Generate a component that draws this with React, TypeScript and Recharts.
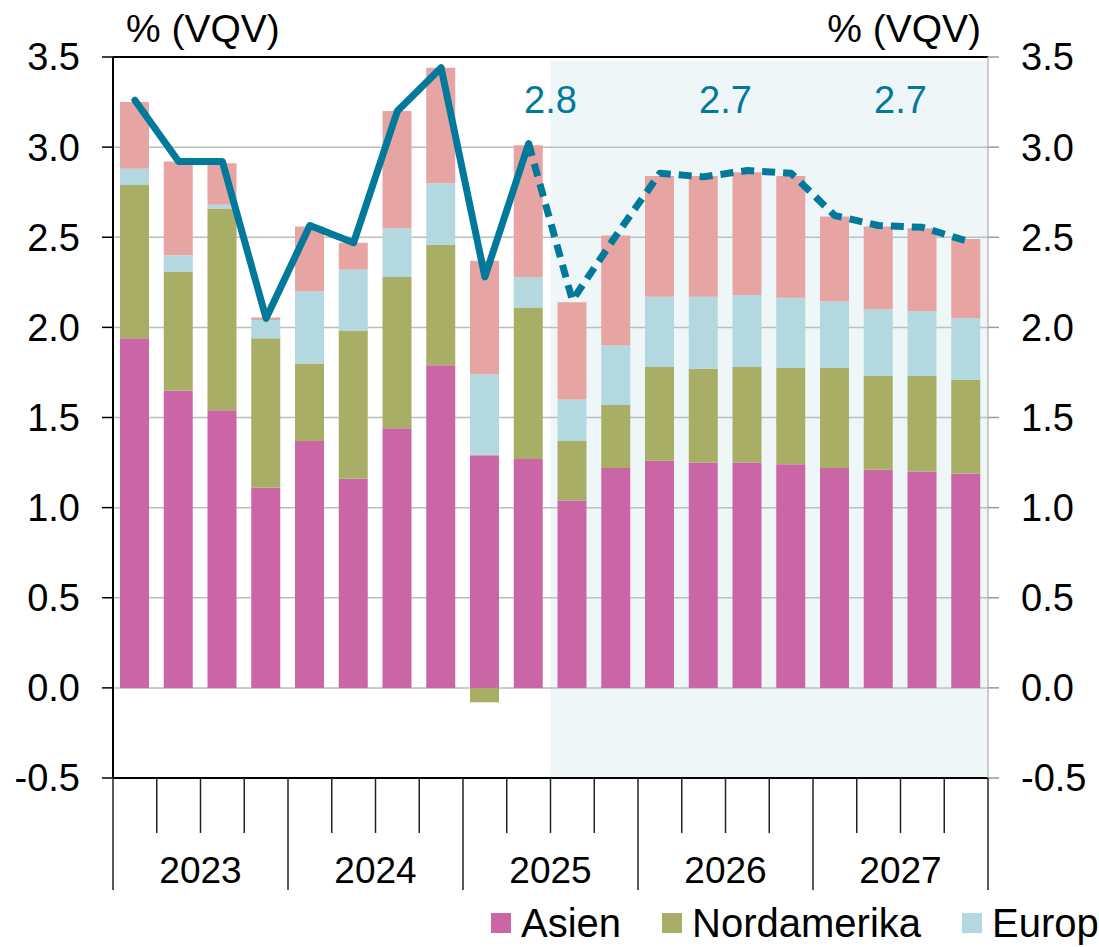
import React from 'react';
import {
  ComposedChart,
  Bar,
  Line,
  XAxis,
  YAxis,
  CartesianGrid,
  ReferenceArea,
  ReferenceLine,
  ReferenceDot,
} from 'recharts';

// Quartale 2023-2027
const quarters = [
  '2023 Q1', '2023 Q2', '2023 Q3', '2023 Q4',
  '2024 Q1', '2024 Q2', '2024 Q3', '2024 Q4',
  '2025 Q1', '2025 Q2', '2025 Q3', '2025 Q4',
  '2026 Q1', '2026 Q2', '2026 Q3', '2026 Q4',
  '2027 Q1', '2027 Q2', '2027 Q3', '2027 Q4',
];
const years = ['2023', '2024', '2025', '2026', '2027'];

// Beiträge in Prozentpunkten
const asien = [1.94, 1.65, 1.54, 1.11, 1.37, 1.16, 1.44, 1.79, 1.29, 1.27, 1.04, 1.22, 1.26, 1.25, 1.25, 1.24, 1.22, 1.21, 1.2, 1.19];
const nordamerika = [0.85, 0.66, 1.12, 0.83, 0.43, 0.82, 0.84, 0.67, -0.08, 0.84, 0.33, 0.35, 0.52, 0.52, 0.53, 0.535, 0.555, 0.52, 0.53, 0.52];
const europa = [0.09, 0.09, 0.02, 0.1, 0.4, 0.34, 0.27, 0.34, 0.45, 0.17, 0.23, 0.33, 0.39, 0.4, 0.4, 0.39, 0.37, 0.37, 0.36, 0.34];
const restDerWelt = [0.37, 0.52, 0.23, 0.015, 0.36, 0.15, 0.65, 0.64, 0.63, 0.73, 0.54, 0.61, 0.67, 0.67, 0.68, 0.675, 0.47, 0.46, 0.46, 0.44];
// Welt gesamt (Linie), ab 2025 Q2 Prognose
const welt = [3.26, 2.92, 2.92, 2.05, 2.565, 2.47, 3.2, 3.44, 2.28, 3.02, 2.15, 2.51, 2.855, 2.835, 2.87, 2.855, 2.62, 2.565, 2.555, 2.48];
const lastActual = 9;

const yTicks = [-0.5, 0, 0.5, 1, 1.5, 2, 2.5, 3, 3.5];
const yearAverages = [
  { year: '2025', label: '2.8' },
  { year: '2026', label: '2.7' },
  { year: '2027', label: '2.7' },
];

const series = [
  { key: 'asien', name: 'Asien', color: '#CB66A6' },
  { key: 'nordamerika', name: 'Nordamerika', color: '#A9AE67' },
  { key: 'europa', name: 'Europa', color: '#B3D8E0' },
  { key: 'rest', name: 'Rest der Welt', color: '#E6A5A2' },
];
const lineColor = '#00799A';

const chartData = quarters.map((q, i) => ({
  q,
  asien: asien[i],
  nordamerika: nordamerika[i],
  europa: europa[i],
  rest: restDerWelt[i],
  ist: i <= lastActual ? welt[i] : null,
  prognose: i >= lastActual ? welt[i] : null,
}));

const WIDTH = 1099;
const HEIGHT = 947;
const LEFT_AXIS_W = 113;
const RIGHT_AXIS_W = 111;
const PLOT_W = WIDTH - LEFT_AXIS_W - RIGHT_AXIS_W;
const BAND = PLOT_W / quarters.length;
const PLOT_BOTTOM = 778;
const FONT = '"Liberation Sans", Arial, sans-serif';

const QuarterTick = (props: any) => {
  const { x, index } = props;
  const left = x - BAND / 2;
  const yearStart = index % 4 === 0;
  const last = index === quarters.length - 1;
  return (
    <g>
      <line x1={left} x2={left} y1={PLOT_BOTTOM} y2={PLOT_BOTTOM + (yearStart ? 112 : 55)} stroke="#222" strokeWidth={1.5} />
      {last && (
        <line x1={left + BAND} x2={left + BAND} y1={PLOT_BOTTOM} y2={PLOT_BOTTOM + 112} stroke="#222" strokeWidth={1.5} />
      )}
      {yearStart && (
        <text x={left + BAND * 2} y={883} textAnchor="middle" fontSize={37} fill="#000" fontFamily={FONT}>
          {years[index / 4]}
        </text>
      )}
    </g>
  );
};

export default function App() {
  const tickStyle = { fontSize: 38, fill: '#000', fontFamily: FONT };

  return (
    <div
      style={{
        position: 'fixed',
        left: 0,
        top: 0,
        width: WIDTH,
        height: HEIGHT,
        overflow: 'hidden',
        background: '#fff',
        fontFamily: FONT,
      }}
    >
      <ComposedChart
        width={WIDTH}
        height={HEIGHT}
        data={chartData}
        stackOffset="sign"
        margin={{ top: 57, right: 0, bottom: 49, left: 0 }}
      >
        <ReferenceArea x1="2025 Q3" x2="2027 Q4" y1={-0.5} y2={3.48} fill="#A8D3DD" fillOpacity={0.2} stroke="none" />
        <CartesianGrid vertical={false} stroke="#BDBDBD" strokeWidth={1.5} />
        <XAxis
          dataKey="q"
          interval={0}
          height={120}
          axisLine={{ stroke: '#000', strokeWidth: 2 }}
          tickLine={false}
          tick={(p: any) => <QuarterTick {...p} />}
        />
        <YAxis
          width={LEFT_AXIS_W}
          domain={[-0.5, 3.5]}
          ticks={yTicks}
          tickFormatter={(v: number) => v.toFixed(1)}
          axisLine={{ stroke: '#000', strokeWidth: 2 }}
          tickLine={{ stroke: '#000', strokeWidth: 1.5 }}
          tickSize={11}
          tickMargin={22}
          tick={tickStyle}
          allowDataOverflow
        />
        <YAxis
          yAxisId="right"
          orientation="right"
          width={RIGHT_AXIS_W}
          domain={[-0.5, 3.5]}
          ticks={yTicks}
          tickFormatter={(v: number) => v.toFixed(1)}
          axisLine={{ stroke: '#BDBDBD', strokeWidth: 1.5 }}
          tickLine={{ stroke: '#9A9A9A', strokeWidth: 1.5 }}
          tickSize={11}
          tickMargin={22}
          tick={tickStyle}
          allowDataOverflow
        />
        <ReferenceLine y={3.5} stroke="#000" strokeWidth={2} />
        {series.map((s) => (
          <Bar key={s.key} dataKey={s.key} name={s.name} stackId="welt" fill={s.color} barSize={29} isAnimationActive={false} />
        ))}
        <Line
          dataKey="ist"
          stroke={lineColor}
          strokeWidth={7}
          strokeLinejoin="round"
          strokeLinecap="round"
          dot={false}
          activeDot={false}
          connectNulls={false}
          isAnimationActive={false}
        />
        <Line
          dataKey="prognose"
          stroke={lineColor}
          strokeWidth={7}
          strokeDasharray="13 8"
          strokeLinejoin="round"
          dot={false}
          activeDot={false}
          connectNulls={false}
          isAnimationActive={false}
        />
        {yearAverages.map((a) => (
          <ReferenceDot
            key={a.year}
            x={`${a.year} Q2`}
            y={3.19}
            r={0}
            fill="none"
            stroke="none"
            label={(p: any) => (
              <text
                x={p.viewBox.x + (p.viewBox.width || 0) / 2 + BAND / 2}
                y={p.viewBox.y + (p.viewBox.height || 0) / 2}
                textAnchor="middle"
                fontSize={38}
                fill={lineColor}
                fontFamily={FONT}
              >
                {a.label}
              </text>
            )}
          />
        ))}
      </ComposedChart>

      <div style={{ position: 'absolute', left: 126, top: 9, fontSize: 39, lineHeight: '39px', color: '#000', whiteSpace: 'nowrap' }}>
        % (VQV)
      </div>
      <div style={{ position: 'absolute', right: WIDTH - 981, top: 9, fontSize: 39, lineHeight: '39px', color: '#000', whiteSpace: 'nowrap' }}>
        % (VQV)
      </div>

      <div
        style={{
          position: 'absolute',
          left: 491,
          top: 903,
          display: 'flex',
          alignItems: 'center',
          whiteSpace: 'nowrap',
          fontSize: 40,
          lineHeight: '40px',
          color: '#000',
        }}
      >
        {series.map((s) => (
          <div key={s.key} style={{ display: 'flex', alignItems: 'center', marginRight: 41 }}>
            <span style={{ display: 'inline-block', width: 20, height: 20, background: s.color, marginRight: 10 }} />
            <span>{s.name}</span>
          </div>
        ))}
        <div style={{ display: 'flex', alignItems: 'center' }}>
          <span style={{ display: 'inline-block', width: 30, height: 6, background: lineColor, marginRight: 10 }} />
          <span>Welt</span>
        </div>
      </div>
    </div>
  );
}
